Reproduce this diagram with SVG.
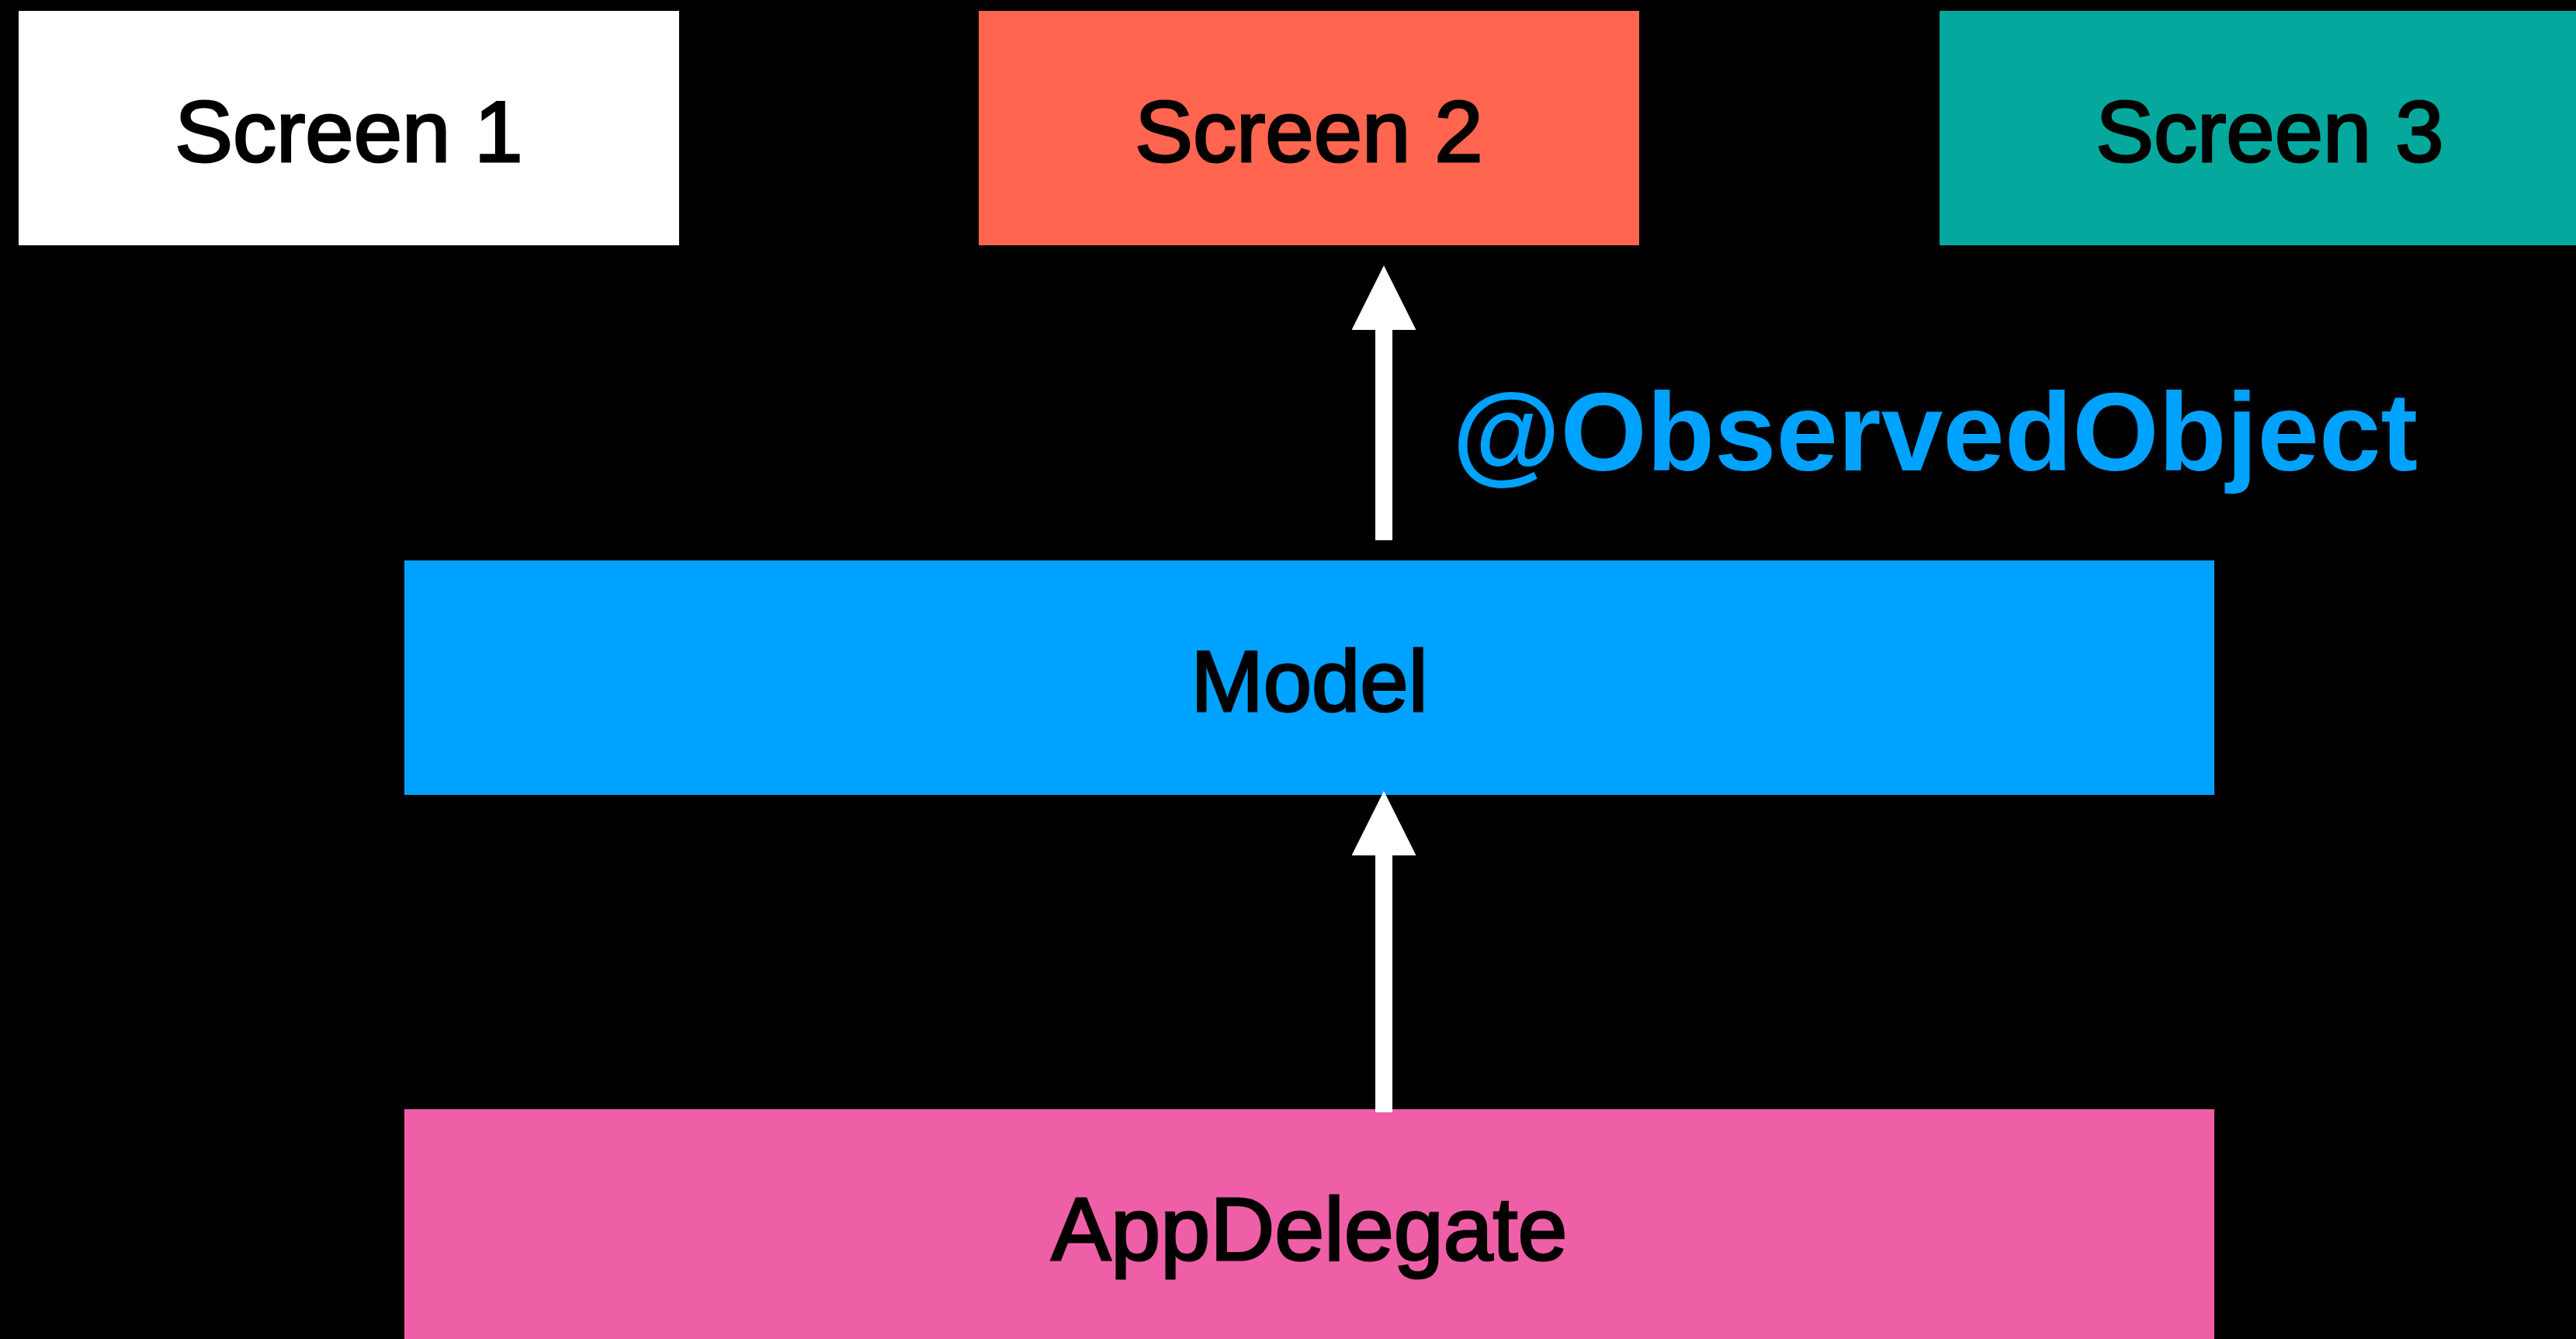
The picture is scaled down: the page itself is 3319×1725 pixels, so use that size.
<svg xmlns="http://www.w3.org/2000/svg" width="3319" height="1725" viewBox="0 0 3319 1725">
  <style>
    .label { font-family: "Liberation Sans", Arial, Helvetica, sans-serif; font-size: 112px; fill: #000000; stroke: #000000; stroke-width: 3px; text-anchor: middle; }
    .edge-label { font-family: "Liberation Sans", Arial, Helvetica, sans-serif; font-size: 143px; font-weight: bold; fill: #00A2FF; }
    .conn { stroke: #FFFFFF; stroke-width: 22; fill: none; }
  </style>
  <defs>
    <marker id="head" markerUnits="userSpaceOnUse" markerWidth="84" markerHeight="84" refX="0" refY="41.5" orient="auto" viewBox="0 0 84 84">
      <path d="M0,0 L83,41.5 L0,83 Z" fill="#FFFFFF"/>
    </marker>
  </defs>
  <rect x="0" y="0" width="3319" height="1725" fill="#000000"/>

  <g id="screen1">
    <rect x="24" y="14" width="851" height="302" fill="#FFFFFF"/>
    <text class="label" x="449.5" y="208">Screen 1</text>
  </g>
  <g id="screen2">
    <rect x="1261" y="14" width="851" height="302" fill="#FF654F"/>
    <text class="label" x="1686.5" y="208">Screen 2</text>
  </g>
  <g id="screen3">
    <rect x="2499" y="14" width="851" height="302" fill="#05A89D"/>
    <text class="label" x="2924.5" y="208">Screen 3</text>
  </g>
  <g id="model">
    <rect x="521" y="722" width="2332" height="302" fill="#00A2FF"/>
    <text class="label" x="1687" y="916">Model</text>
  </g>
  <g id="appdelegate">
    <rect x="521" y="1429" width="2332" height="302" fill="#EF5FA7"/>
    <text class="label" x="1687" y="1623" style="font-size:115px">AppDelegate</text>
  </g>

  <g id="connectors">
    <line class="conn" x1="1783" y1="696" x2="1783" y2="425" marker-end="url(#head)"/>
    <text class="edge-label" x="1871" y="606">@ObservedObject</text>
    <line class="conn" x1="1783" y1="1433" x2="1783" y2="1102" marker-end="url(#head)"/>
  </g>
</svg>
